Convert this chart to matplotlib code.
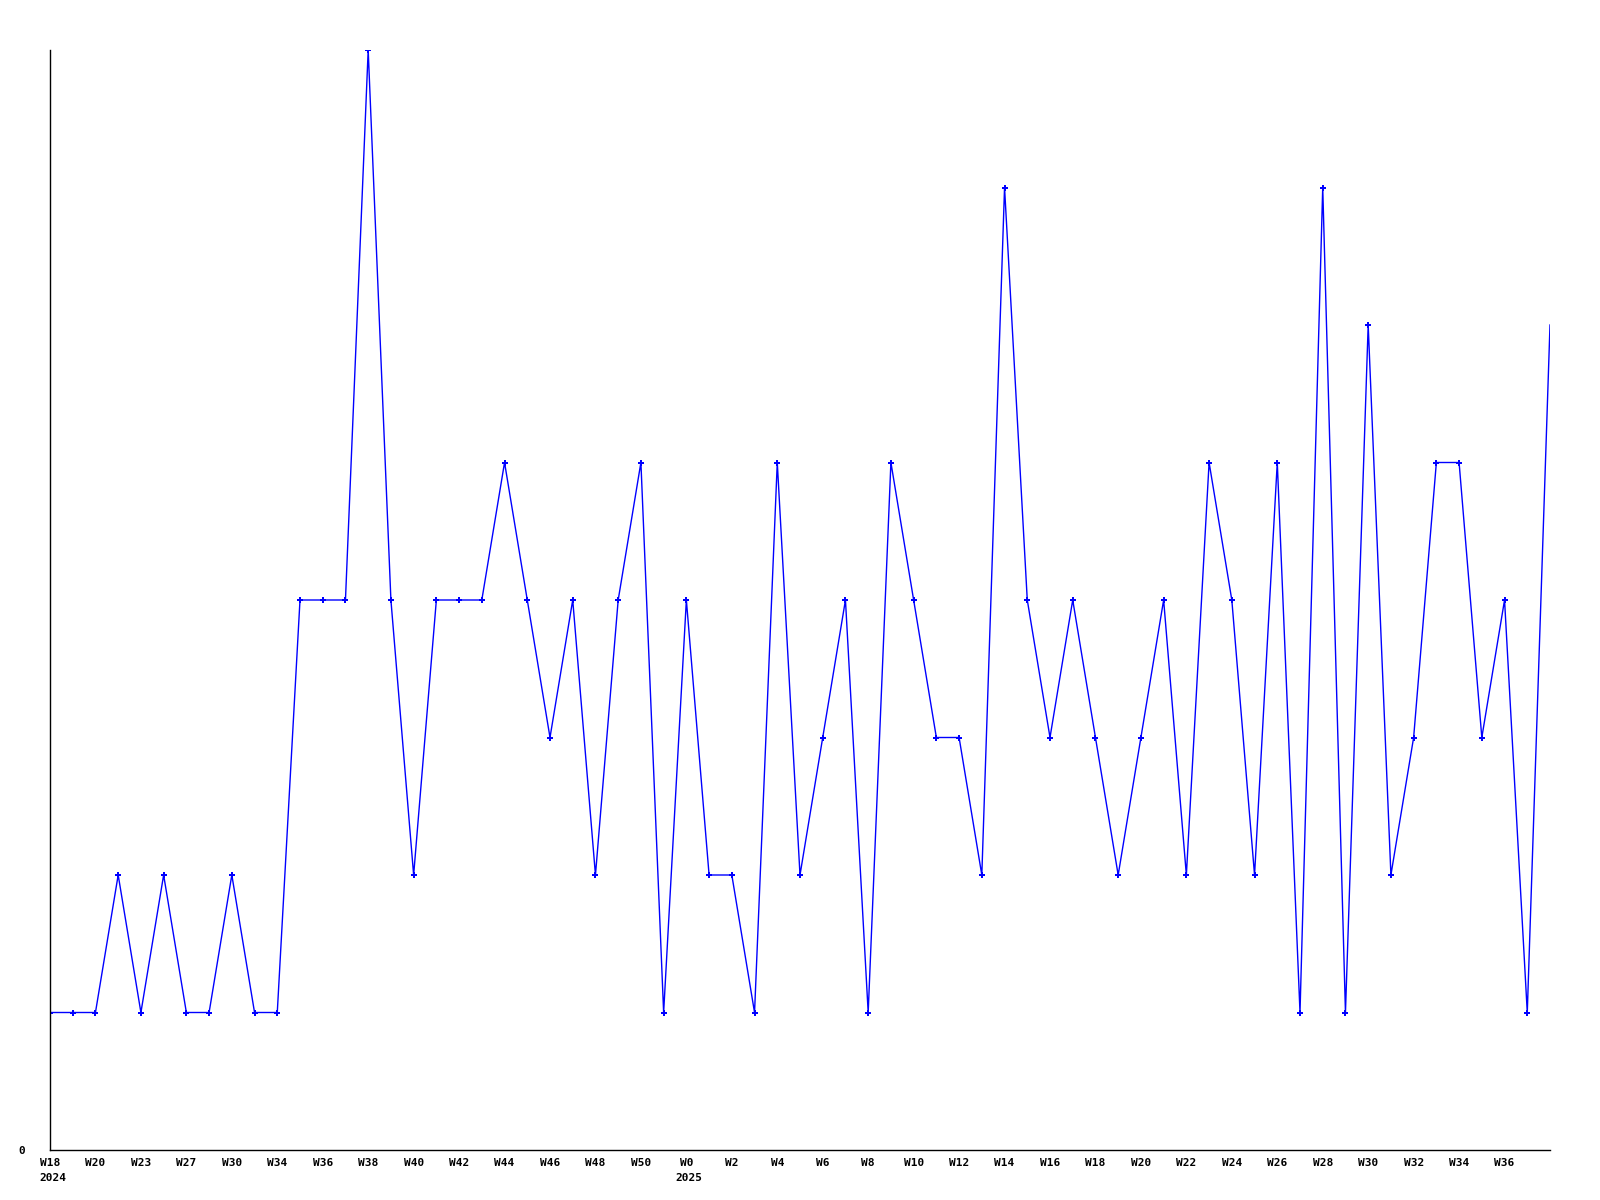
import matplotlib
matplotlib.use("Agg")
import matplotlib.pyplot as plt
import matplotlib.transforms as mtransforms

weeks = ["W18", "W19", "W20", "W21", "W23", "W25", "W27", "W29", "W30", "W32",
         "W34", "W35", "W36", "W37", "W38", "W39", "W40", "W41", "W42", "W43",
         "W44", "W45", "W46", "W47", "W48", "W49", "W50", "W51",
         "W0", "W1", "W2", "W3", "W4", "W5", "W6", "W7", "W8", "W9",
         "W10", "W11", "W12", "W13", "W14", "W15", "W16", "W17", "W18", "W19",
         "W20", "W21", "W22", "W23", "W24", "W25", "W26", "W27", "W28", "W29",
         "W30", "W31", "W32", "W33", "W34", "W35", "W36", "W37", "W38"]
values = [1, 1, 1, 2, 1, 2, 1, 1, 2, 1,
          1, 4, 4, 4, 8, 4, 2, 4, 4, 4,
          5, 4, 3, 4, 2, 4, 5, 1,
          4, 2, 2, 1, 5, 2, 3, 4, 1, 5,
          4, 3, 3, 2, 7, 4, 3, 4, 3, 2,
          3, 4, 2, 5, 4, 2, 5, 1, 7, 1,
          6, 2, 3, 5, 5, 3, 4, 1, 6]
year_marks = {0: "2024", 28: "2025"}

plt.rcParams['font.family'] = ['DejaVu Sans Mono']
fig = plt.figure(figsize=(16, 12), dpi=100)
ax = fig.add_axes([50 / 1600, 50 / 1200, 1500 / 1600, 1100 / 1200])

n = len(values)
x = list(range(n))
ax.plot(x, values, color='#0000ff', linewidth=1.0, antialiased=True)
ax.plot(x[:-1], values[:-1], linestyle='none', marker='P', markersize=5,
        color='#0000ff', markeredgewidth=0)

ax.set_xlim(0, n - 1)
ax.set_ylim(0, max(values))
for s in ['top', 'right']:
    ax.spines[s].set_visible(False)
for s in ['left', 'bottom']:
    ax.spines[s].set_color('black')
    ax.spines[s].set_linewidth(1.0)

tick_idx = list(range(0, n - 1, 2))
ax.set_xticks(tick_idx)
ax.set_xticklabels([weeks[i] for i in tick_idx], fontsize=8, fontweight='bold')
ax.tick_params(axis='x', length=0, pad=6)
ax.set_yticks([0])
ax.set_yticklabels(['0'], fontsize=8, fontweight='bold')
ax.tick_params(axis='y', length=0, pad=18)

trans = mtransforms.blended_transform_factory(ax.transData, ax.transAxes)
for i, yr in year_marks.items():
    ax.annotate(yr, xy=(i, 0), xycoords=trans, xytext=(-8, -16.5),
                textcoords='offset points', ha='left', va='top',
                fontsize=8, fontweight='bold')

fig.savefig('out.png', dpi=100, facecolor='white')
